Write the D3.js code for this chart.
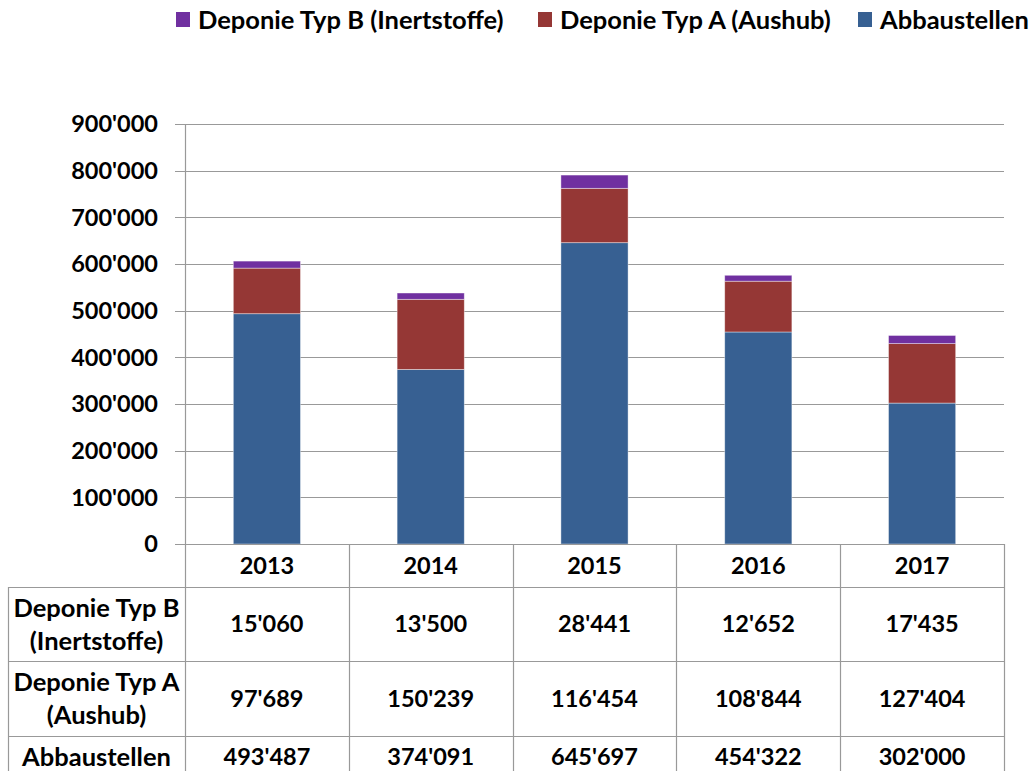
<!DOCTYPE html>
<html>
<head>
<meta charset="utf-8">
<script src="https://cdn.jsdelivr.net/npm/d3@7"></script>
<style>
  body { margin: 0; background: #fff; }
  svg { display: block; font-family: Lato, "Open Sans", sans-serif; font-weight: bold; }
</style>
</head>
<body>
<div id="chart"></div>
<script>
// data
const years = ['2013', '2014', '2015', '2016', '2017']
const abbaustellen = [493487, 374091, 645697, 454322, 302000]
const typA = [97689, 150239, 116454, 108844, 127404]
const typB = [15060, 13500, 28441, 12652, 17435]
const seriesNames = ['Abbaustellen', 'Deponie Typ A (Aushub)', 'Deponie Typ B (Inertstoffe)']
const seriesColors = ['#376092', '#953735', '#7030a0']
const yTicks = [0, 100000, 200000, 300000, 400000, 500000, 600000, 700000, 800000, 900000]

const width = 1030, height = 771
const plotLeft = 185, plotRight = 1004, plotTop = 124, plotBottom = 544
const numSize = 23.5, wordSize = 25.5

const svg = d3.select('#chart').append('svg')
  .attr('width', width)
  .attr('height', height)

const rows = years.map((y, i) => ({ year: y, a: abbaustellen[i], b: typA[i], c: typB[i] }))
const stacked = d3.stack().keys(['a', 'b', 'c'])(rows)

const x = d3.scaleBand().domain(years).range([plotLeft, plotRight]).paddingInner(0).paddingOuter(0)
const y = d3.scaleLinear().domain([0, 900000]).range([plotBottom, plotTop])
const fmt = v => d3.format(',')(v).replace(/,/g, "'")

// grid lines
svg.append('g')
  .selectAll('line')
  .data(yTicks)
  .join('line')
  .attr('x1', plotLeft - 10)
  .attr('x2', plotRight)
  .attr('y1', d => Math.round(y(d)) + 0.5)
  .attr('y2', d => Math.round(y(d)) + 0.5)
  .attr('stroke', '#999')
  .attr('stroke-width', 1.2)

// y axis line
svg.append('line')
  .attr('x1', plotLeft + 0.5).attr('x2', plotLeft + 0.5)
  .attr('y1', plotTop).attr('y2', plotBottom)
  .attr('stroke', '#999').attr('stroke-width', 1.2)

// y labels
svg.append('g')
  .selectAll('text')
  .data(yTicks)
  .join('text')
  .attr('x', 158)
  .attr('y', d => y(d))
  .attr('dy', '0.36em')
  .attr('text-anchor', 'end')
  .attr('font-size', numSize)
  .text(d => fmt(d))

// bars
const barW = x.bandwidth() * 0.41
svg.append('g')
  .selectAll('g')
  .data(stacked)
  .join('g')
  .attr('fill', (d, i) => seriesColors[i])
  .selectAll('rect')
  .data(d => d)
  .join('rect')
  .attr('x', d => x(d.data.year) + (x.bandwidth() - barW) / 2)
  .attr('width', barW)
  .attr('y', d => y(d[1]))
  .attr('height', d => y(d[0]) - y(d[1]))
  .attr('stroke', '#fff')
  .attr('stroke-opacity', 0.5)
  .attr('stroke-width', 0.8)

// data table
const tableLeft = 8
const rowLines = [544, 587, 661, 736, 812]
const tableRows = [
  { label: ['Deponie Typ B', '(Inertstoffe)'], values: typB },
  { label: ['Deponie Typ A', '(Aushub)'], values: typA },
  { label: ['Abbaustellen'], values: abbaustellen }
]
const grid = svg.append('g').attr('stroke', '#999').attr('stroke-width', 1.2)
rowLines.forEach((ly, i) => {
  grid.append('line')
    .attr('x1', i === 0 ? plotLeft : tableLeft).attr('x2', plotRight)
    .attr('y1', ly + 0.5).attr('y2', ly + 0.5)
})
grid.append('line')
  .attr('x1', tableLeft + 0.5).attr('x2', tableLeft + 0.5)
  .attr('y1', rowLines[1]).attr('y2', height)
years.forEach(yr => {
  grid.append('line')
    .attr('x1', Math.round(x(yr)) + 0.5).attr('x2', Math.round(x(yr)) + 0.5)
    .attr('y1', plotBottom).attr('y2', height)
})
grid.append('line')
  .attr('x1', plotRight + 0.5).attr('x2', plotRight + 0.5)
  .attr('y1', plotBottom).attr('y2', height)

// header row (years)
svg.append('g')
  .selectAll('text')
  .data(years)
  .join('text')
  .attr('x', d => x(d) + x.bandwidth() / 2)
  .attr('y', (rowLines[0] + rowLines[1]) / 2)
  .attr('dy', '0.36em')
  .attr('text-anchor', 'middle')
  .attr('font-size', numSize)
  .text(d => d)

tableRows.forEach((r, ri) => {
  const cy = ri === 2 ? 757 : (rowLines[ri + 1] + rowLines[ri + 2]) / 2
  const lab = svg.append('text')
    .attr('x', (tableLeft + plotLeft) / 2)
    .attr('text-anchor', 'middle')
    .attr('font-size', wordSize)
  r.label.forEach((t, li) => {
    lab.append('tspan')
      .attr('x', (tableLeft + plotLeft) / 2)
      .attr('y', cy + (li - (r.label.length - 1) / 2) * 33)
      .attr('dy', '0.36em')
      .text(t)
  })
  svg.append('g')
    .selectAll('text')
    .data(r.values)
    .join('text')
    .attr('x', (d, i) => x(years[i]) + x.bandwidth() / 2)
    .attr('y', cy)
    .attr('dy', '0.36em')
    .attr('text-anchor', 'middle')
    .attr('font-size', numSize)
    .text(d => fmt(d))
})

// legend
const legendItems = [
  { name: seriesNames[2], color: seriesColors[2], x: 176 },
  { name: seriesNames[1], color: seriesColors[1], x: 538 },
  { name: seriesNames[0], color: seriesColors[0], x: 858 }
]
const lg = svg.append('g')
legendItems.forEach(it => {
  lg.append('rect')
    .attr('x', it.x).attr('y', 12)
    .attr('width', 14).attr('height', 15)
    .attr('fill', it.color)
  lg.append('text')
    .attr('x', it.x + 22)
    .attr('y', 20)
    .attr('dy', '0.36em')
    .attr('font-size', wordSize)
    .text(it.name)
})
</script>
</body>
</html>
